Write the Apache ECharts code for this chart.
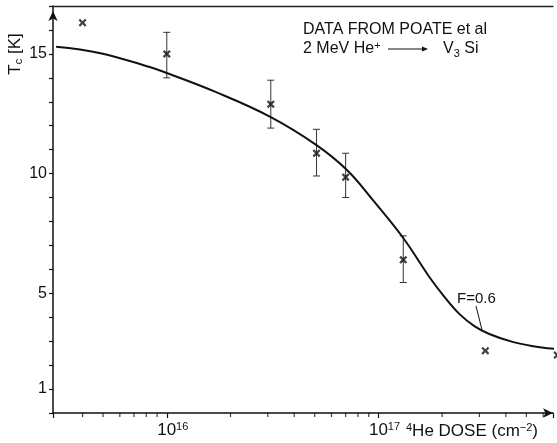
<!DOCTYPE html>
<html><head><meta charset="utf-8">
<script src="https://cdn.jsdelivr.net/npm/echarts@6/dist/echarts.min.js"></script>
<style>html,body{margin:0;padding:0;background:#fff}#c{width:557px;height:443px}</style>
</head><body><div id="c"></div>
<script>
// Measured data points (dose in cm^-2, Tc in K)
const pointDose = [4e15, 1e16, 3.1e16, 5.1e16, 7e16, 1.31e17, 3.2e17, 7.0e17];
const pointTc   = [16.3, 15.0, 12.9, 10.85, 9.85, 6.4, 2.6, 2.42];
// Error bars
const barDose = [1e16, 3.1e16, 5.1e16, 7e16, 1.31e17];
const barLow  = [14.0, 11.9, 9.9, 9.0, 5.45];
const barHigh = [15.9, 13.9, 11.85, 10.85, 7.4];
// Model curve F = 0.6
const curveDose = [3.0e15, 4.8e15, 8.3e15, 1.0e16, 1.7e16, 3.1e16, 5.1e16, 7.1e16, 9.4e16, 1.31e17, 1.74e17, 2.05e17, 2.41e17, 2.84e17, 3.34e17, 4.3e17, 5.3e17, 6.9e17];
const curveTc   = [15.3, 15.04, 14.45, 14.2, 13.41, 12.36, 11.19, 10.15, 8.9, 7.31, 5.68, 4.85, 4.14, 3.63, 3.30, 2.97, 2.80, 2.67];
// Axis ticks
const minorTickDose = [4e15,5e15,6e15,7e15,8e15,9e15,2e16,3e16,4e16,5e16,6e16,7e16,8e16,9e16,2e17,3e17,4e17,5e17,6e17];
const yTickLabels = [1, 5, 10, 15];

const FONT = 'Liberation Sans, Arial, sans-serif';
const INK = '#111';

const chart = echarts.init(document.getElementById('c'), null, {renderer: 'canvas'});
const xMarker = 'path://M0,2 L2,0 L5,3 L8,0 L10,2 L7,5 L10,8 L8,10 L5,7 L2,10 L0,8 L3,5 Z';

chart.setOption({
  backgroundColor: '#fff',
  animation: false,
  grid: {left: 53, right: 4, top: 6, bottom: 30, containLabel: false},
  xAxis: [{
    type: 'log', logBase: 10, min: 2.9e15, max: 6.68e17,
    axisLine: {show: true, lineStyle: {color: INK, width: 1.5}, symbol: ['none', 'arrow'], symbolSize: [7, 10]},
    axisTick: {show: true, length: 5, lineStyle: {color: INK, width: 1.2}},
    splitLine: {show: false}, minorTick: {show: false},
    axisLabel: {
      margin: 8, color: INK, fontFamily: FONT,
      formatter: function (v) {
        const e = Math.log10(v);
        if (Math.abs(e - Math.round(e)) < 1e-6) return '{p|}{b|10}{s|' + Math.round(e) + '}';
        return '';
      },
      rich: {
        p: {width: 12, fontSize: 17, lineHeight: 18},
        b: {fontSize: 17, lineHeight: 18, fontFamily: FONT, color: INK},
        s: {fontSize: 11, lineHeight: 11, verticalAlign: 'top', fontFamily: FONT, color: INK, width: 12}
      }
    }
  }, {
    type: 'value', position: 'top', min: 0, max: 1,
    axisLine: {show: true, lineStyle: {color: '#222', width: 1.3}},
    axisTick: {show: false}, axisLabel: {show: false}, splitLine: {show: false}
  }],
  yAxis: {
    type: 'value', min: 0, max: 17, interval: 1,
    axisLine: {show: true, lineStyle: {color: INK, width: 1.5}, symbol: ['none', 'arrow'], symbolSize: [7, 10], symbolOffset: [0, -5]},
    axisTick: {show: true, length: 4, lineStyle: {color: INK, width: 1.2}},
    splitLine: {show: false},
    axisLabel: {
      margin: 6, color: INK, fontSize: 16, fontFamily: FONT,
      formatter: function (v) { return yTickLabels.indexOf(v) >= 0 ? String(v) : ''; }
    }
  },
  series: [{
    type: 'line', name: 'F=0.6', xAxisIndex: 0,
    data: curveDose.map((d, i) => [d, curveTc[i]]),
    smooth: 0.4, showSymbol: false, clip: false, silent: true,
    lineStyle: {color: INK, width: 2}
  }, {
    type: 'custom', xAxisIndex: 0, clip: false, silent: true,
    data: barDose.map((d, i) => [d, barLow[i], barHigh[i]]),
    encode: {x: 0, y: [1, 2]},
    renderItem: function (params, api) {
      const lo = api.coord([api.value(0), api.value(1)]);
      const hi = api.coord([api.value(0), api.value(2)]);
      const w = 3.5;
      const st = {stroke: '#333', lineWidth: 1};
      return {type: 'group', children: [
        {type: 'line', shape: {x1: lo[0], y1: lo[1], x2: hi[0], y2: hi[1]}, style: st},
        {type: 'line', shape: {x1: lo[0] - w, y1: lo[1], x2: lo[0] + w, y2: lo[1]}, style: st},
        {type: 'line', shape: {x1: hi[0] - w, y1: hi[1], x2: hi[0] + w, y2: hi[1]}, style: st}
      ]};
    }
  }, {
    type: 'scatter', xAxisIndex: 0, clip: false, silent: true,
    data: pointDose.map((d, i) => [d, pointTc[i]]),
    symbol: xMarker, symbolSize: 8,
    itemStyle: {color: INK}
  }, {
    type: 'scatter', xAxisIndex: 0, clip: false, silent: true,
    data: minorTickDose.map(d => [d, 0]),
    symbol: 'rect', symbolSize: [1.2, 4], symbolOffset: [0, 2],
    itemStyle: {color: INK}
  }],
  graphic: [
    {type: 'text', x: 15, y: 54, rotation: Math.PI / 2,
     style: {text: '{b|T}{s|c}{b| [K]}', align: 'center', verticalAlign: 'middle', fill: INK,
       rich: {b: {fontSize: 17, lineHeight: 18, fontFamily: FONT, fill: INK, color: INK},
              s: {fontSize: 11, lineHeight: 11, verticalAlign: 'bottom', fontFamily: FONT, fill: INK, color: INK}}}},
    {type: 'text', x: 406, y: 431,
     style: {text: '{s|4}{b|He DOSE (cm}{s|\u22122}{b|)}', align: 'left', verticalAlign: 'middle', fill: INK,
       rich: {b: {fontSize: 17, lineHeight: 18, fontFamily: FONT, fill: INK, color: INK},
              s: {fontSize: 11, lineHeight: 11, verticalAlign: 'top', fontFamily: FONT, fill: INK, color: INK}}}},
    {type: 'text', x: 303, y: 30,
     style: {text: 'DATA FROM POATE et al', align: 'left', verticalAlign: 'middle', fill: INK, font: '16px ' + FONT}},
    {type: 'text', x: 303, y: 49,
     style: {text: '{b|2 MeV He}{s|+}', align: 'left', verticalAlign: 'middle', fill: INK,
       rich: {b: {fontSize: 16, lineHeight: 18, fontFamily: FONT, fill: INK, color: INK},
              s: {fontSize: 11, lineHeight: 11, verticalAlign: 'top', fontFamily: FONT, fill: INK, color: INK}}}},
    {type: 'line', shape: {x1: 388, y1: 49, x2: 424, y2: 49}, style: {stroke: INK, lineWidth: 1.2}},
    {type: 'polygon', shape: {points: [[422, 46.5], [428, 49], [422, 51.5]]}, style: {fill: INK}},
    {type: 'text', x: 443, y: 49,
     style: {text: '{b|V}{s|3}{b| Si}', align: 'left', verticalAlign: 'middle', fill: INK,
       rich: {b: {fontSize: 16, lineHeight: 20, fontFamily: FONT, fill: INK, color: INK},
              s: {fontSize: 11, lineHeight: 11, verticalAlign: 'bottom', fontFamily: FONT, fill: INK, color: INK}}}},
    {type: 'text', x: 457, y: 299,
     style: {text: 'F=0.6', align: 'left', verticalAlign: 'middle', fill: INK, font: '15px ' + FONT}},
    {type: 'line', shape: {x1: 476, y1: 306, x2: 482, y2: 330}, style: {stroke: INK, lineWidth: 1}}
  ]
});
</script>
</body></html>
